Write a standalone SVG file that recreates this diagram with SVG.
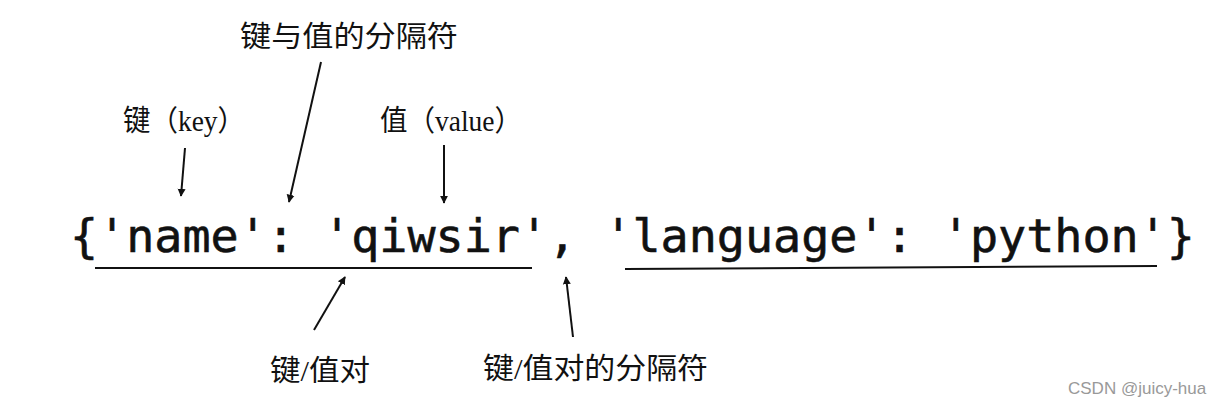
<svg xmlns="http://www.w3.org/2000/svg" width="1232" height="408" viewBox="0 0 1232 408">
<style>
.lbl{font-family:"Liberation Serif","Noto Sans CJK SC",serif;font-size:29px;fill:#111}
.code{font-family:"DejaVu Sans Mono","Liberation Mono",monospace;font-size:46px;fill:#111;stroke:#111;stroke-width:0.6}
.ln{stroke:#111;stroke-width:2;fill:none}
</style>
<defs><marker id="ah" viewBox="0 0 10 10" refX="9" refY="5" markerWidth="8" markerHeight="10" orient="auto" markerUnits="userSpaceOnUse"><path d="M0,0 L10,5 L0,10 z" fill="#111"/></marker></defs>
<rect width="1232" height="408" fill="#fff"/>
<g id="code"><text class="code" x="70" y="252" textLength="1125" lengthAdjust="spacingAndGlyphs">{'name': 'qiwsir', 'language': 'python'}</text></g>
<g id="sep-kv"><text class="lbl" x="240" y="47" textLength="218" lengthAdjust="spacingAndGlyphs">键与值的分隔符</text></g>
<g id="key"><text class="lbl" x="123" y="131" textLength="122" lengthAdjust="spacingAndGlyphs">键（key）</text></g>
<g id="value"><text class="lbl" x="380" y="131" textLength="142" lengthAdjust="spacingAndGlyphs">值（value）</text></g>
<g id="pair"><text class="lbl" x="270" y="381" textLength="100" lengthAdjust="spacingAndGlyphs">键/值对</text></g>
<g id="sep-pair"><text class="lbl" x="483" y="379" textLength="225" lengthAdjust="spacingAndGlyphs">键/值对的分隔符</text></g>
<g id="wm"><text x="1068" y="394" style="font-family:'Liberation Sans',sans-serif;font-size:17px;fill:#999">CSDN @juicy-hua</text></g>
<g id="connectors">
<line class="ln" x1="321" y1="62" x2="289" y2="202" marker-end="url(#ah)"/>
<line class="ln" x1="185" y1="148" x2="181" y2="196" marker-end="url(#ah)"/>
<line class="ln" x1="444" y1="145" x2="444" y2="203" marker-end="url(#ah)"/>
<line class="ln" x1="95" y1="268" x2="532" y2="268"/>
<line class="ln" x1="625" y1="269" x2="1157" y2="266"/>
<line class="ln" x1="314" y1="330" x2="345" y2="277" marker-end="url(#ah)"/>
<line class="ln" x1="573" y1="337" x2="566" y2="277" marker-end="url(#ah)"/>
</g>
</svg>
